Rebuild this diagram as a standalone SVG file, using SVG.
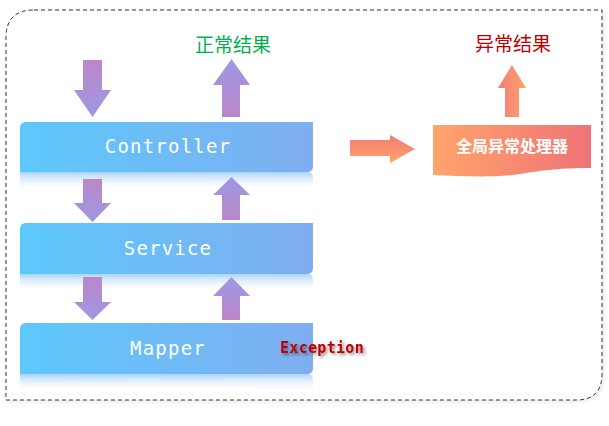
<svg xmlns="http://www.w3.org/2000/svg" width="609" height="426" viewBox="0 0 609 426">
<style>
.layer{font-family:"DejaVu Sans Mono","Liberation Mono",monospace;font-size:19px;fill:#ffffff;letter-spacing:1.2px;text-anchor:middle}
.cjk{font-family:"Noto Sans CJK SC","Noto Sans",sans-serif;font-size:19px;text-anchor:middle}
</style>
<defs>
<linearGradient id="gBox" x1="0" y1="0" x2="1" y2="0"><stop offset="0" stop-color="#5cc8fb"/><stop offset="1" stop-color="#80aef0"/></linearGradient>
<linearGradient id="gRef" x1="0" y1="0" x2="0" y2="1"><stop offset="0" stop-color="#a9d3fa"/><stop offset="1" stop-color="#ffffff" stop-opacity="0"/></linearGradient>
<linearGradient id="gDown" x1="0" y1="0" x2="0" y2="1"><stop offset="0" stop-color="#bc86ca"/><stop offset="1" stop-color="#9d98e2"/></linearGradient>
<linearGradient id="gUp" x1="0" y1="0" x2="0" y2="1"><stop offset="0" stop-color="#9d98e2"/><stop offset="1" stop-color="#bc86ca"/></linearGradient>
<linearGradient id="gOrH" x1="0" y1="0" x2="1" y2="0"><stop offset="0" stop-color="#ffa46a"/><stop offset="1" stop-color="#f07378"/></linearGradient>
<linearGradient id="gOrUp" x1="0" y1="0" x2="1" y2="0"><stop offset="0" stop-color="#f47c78"/><stop offset="1" stop-color="#ffa46a"/></linearGradient>
<linearGradient id="gOrR" x1="0" y1="0" x2="0" y2="1"><stop offset="0" stop-color="#f37a76"/><stop offset="1" stop-color="#ffa46a"/></linearGradient>
<filter id="shadow" x="-5%" y="-5%" width="110%" height="110%"><feGaussianBlur in="SourceAlpha" stdDeviation="2"/><feOffset dx="1" dy="1"/><feComponentTransfer><feFuncA type="linear" slope="0.12"/></feComponentTransfer><feMerge><feMergeNode/><feMergeNode in="SourceGraphic"/></feMerge></filter>
<filter id="tshadow" x="-20%" y="-50%" width="140%" height="200%"><feGaussianBlur in="SourceAlpha" stdDeviation="1.5"/><feOffset dx="2" dy="2"/><feComponentTransfer><feFuncA type="linear" slope="0.45"/></feComponentTransfer><feMerge><feMergeNode/><feMergeNode in="SourceGraphic"/></feMerge></filter>
</defs>
<rect width="609" height="426" fill="#ffffff"/>
<g id="frame">
<path d="M34,10 H602 V374 Q602,400 576,400 H6 V38 Q6,10 34,10 Z" fill="#ffffff" stroke="#333" stroke-width="1" stroke-dasharray="4,3" filter="url(#shadow)"/>
</g>
<g id="controller">
<path d="M20,172 V128 Q20,122 26,122 H313 V166 Q313,172 307,172 Z" fill="url(#gBox)"/>
<path d="M20,172 H307 Q313,172 313,178 V191 H20 Z" fill="url(#gRef)"/>
<text class="layer" x="168" y="153">Controller</text>
</g>
<g id="service">
<path d="M20,274 V229 Q20,223 26,223 H313 V268 Q313,274 307,274 Z" fill="url(#gBox)"/>
<path d="M20,274 H307 Q313,274 313,280 V292 H20 Z" fill="url(#gRef)"/>
<text class="layer" x="168" y="255">Service</text>
</g>
<g id="mapper">
<path d="M20,374 V329 Q20,323 26,323 H313 V368 Q313,374 307,374 Z" fill="url(#gBox)"/>
<path d="M20,374 H307 Q313,374 313,380 V392 H20 Z" fill="url(#gRef)"/>
<text class="layer" x="168" y="355">Mapper</text>
</g>
<g id="exception">
<text x="280" y="353" font-family="'DejaVu Sans Mono','Liberation Mono',monospace" font-size="15" font-weight="bold" fill="#c00000" letter-spacing="0.3" filter="url(#tshadow)">Exception</text>
</g>
<g id="handler">
<path d="M433,125 H591 V168 C560,168 545,170 520,174 C495,178 460,176 433,175 Z" fill="url(#gOrH)"/>
<text x="512" y="152" font-family="'Noto Sans CJK SC','Noto Sans',sans-serif" font-size="16" font-weight="bold" fill="#ffffff" text-anchor="middle">全局异常处理器</text>
</g>
<g id="labels">
<text class="cjk" x="233" y="52" fill="#00b050">正常结果</text>
<text class="cjk" x="513" y="51" fill="#c00000">异常结果</text>
</g>
<g id="connectors">
<path d="M83,60 H102 V90 H111 L92.5,117 L74,90 H83 Z" fill="url(#gDown)"/>
<path d="M222,117 V85 H213 L231.5,59 L250,85 H240 V117 Z" fill="url(#gUp)"/>
<path d="M83,179 H102 V203 H111 L92.5,222 L74,203 H83 Z" fill="url(#gDown)"/>
<path d="M222,220 V195 H213 L231.5,177 L250,195 H240 V220 Z" fill="url(#gUp)"/>
<path d="M83,277 H102 V302 H111 L92.5,320 L74,302 H83 Z" fill="url(#gDown)"/>
<path d="M222,320 V296 H213 L231.5,277 L250,296 H240 V320 Z" fill="url(#gUp)"/>
<path d="M350,140 H390 V135 L415,149 L390,163 V156 H350 Z" fill="url(#gOrR)"/>
<path d="M505,117 V88 H498 L512,65 L526,88 H519 V117 Z" fill="url(#gOrUp)"/>
</g>
</svg>
